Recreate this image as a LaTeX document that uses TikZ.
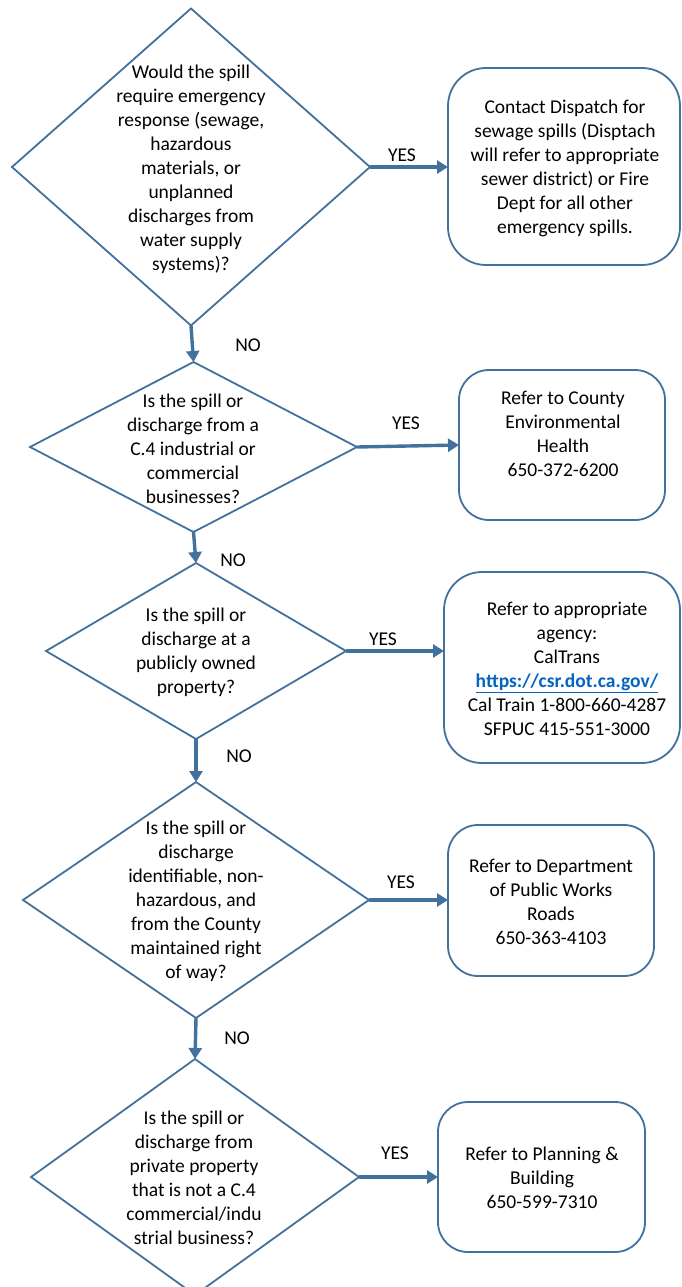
\documentclass[tikz,border=0pt]{standalone}
\usepackage{fontspec}
\setmainfont{Carlito}
\usetikzlibrary{shapes.geometric,arrows.meta}
\definecolor{edge}{HTML}{41719C}
\definecolor{linkc}{HTML}{0563C1}
\tikzset{
  dia/.style={shape=diamond,draw=edge,line width=1.8pt,inner sep=0pt,outer sep=0pt},
  box/.style={shape=rectangle,draw=edge,line width=1.8pt,inner sep=0pt,outer sep=0pt},
  txt/.style={align=center,inner sep=0pt,font=\fontsize{19.5}{24}\selectfont},
  lbl/.style={inner sep=0pt,font=\fontsize{19.5}{24}\selectfont},
  arr/.style={draw=edge,line width=3.4pt,-{Triangle[length=11pt,width=13pt]}}
}
\begin{document}
\begin{tikzpicture}[x=1pt,y=-1pt]
\useasboundingbox (0,0) rectangle (681,1287);
% diamonds
\node[dia,minimum width=358pt,minimum height=317pt] (d1) at (191,167) {};
\node[dia,minimum width=327pt,minimum height=170pt] (d2) at (193.5,447) {};
\node[dia,minimum width=300pt,minimum height=176pt] (d3) at (196,651) {};
\node[dia,minimum width=346pt,minimum height=236pt] (d4) at (196,900) {};
\node[dia,minimum width=328pt,minimum height=236pt] (d5) at (195,1177) {};
% boxes
\node[box,rounded corners=38pt,minimum width=232pt,minimum height=197pt] (b1) at (564,166.5) {};
\node[box,rounded corners=30pt,minimum width=206pt,minimum height=150pt] (b2) at (562,445) {};
\node[box,rounded corners=38pt,minimum width=236pt,minimum height=191pt] (b3) at (562,667.5) {};
\node[box,rounded corners=30pt,minimum width=206pt,minimum height=151pt] (b4) at (551,900.5) {};
\node[box,rounded corners=30pt,minimum width=207pt,minimum height=150pt] (b5) at (541.5,1177) {};
% diamond texts
\node[txt] (t1) at (191,169) {Would the spill\\require emergency\\response (sewage,\\hazardous\\materials, or\\unplanned\\discharges from\\water supply\\systems)?};
\node[txt] (t2) at (193,449) {Is the spill or\\discharge from a\\C.4 industrial or\\commercial\\businesses?};
\node[txt] (t3) at (196,652) {Is the spill or\\discharge at a\\publicly owned\\property?};
\node[txt] (t4) at (196,901) {Is the spill or\\discharge\\identifiable, non-\\hazardous, and\\from the County\\maintained right\\of way?};
\node[txt] (t5) at (194,1178) {Is the spill or\\discharge from\\private property\\that is not a C.4\\commercial/indu\\strial business?};
% box texts
\node[txt] (s1) at (565,168) {Contact Dispatch for\\sewage spills (Disptach\\will refer to appropriate\\sewer district) or Fire\\Dept for all other\\emergency spills.};
\node[txt] (s2) at (563,434) {Refer to County\\Environmental\\Health\\650-372-6200};
\node[txt] (s3) at (567,669) {Refer to appropriate\\agency:\\CalTrans\\{\color{linkc}\underline{\textbf{https://csr.dot.ca.gov/}}}\\Cal Train 1-800-660-4287\\SFPUC 415-551-3000};
\node[txt] (s4) at (551,902) {Refer to Department\\of Public Works\\Roads\\650-363-4103};
\node[txt] (s5) at (542,1178) {Refer to Planning \&\\Building\\650-599-7310};
% connectors
\draw[arr] (d1.south) -- (d2.north);
\draw[arr] (d2.south) -- (d3.north);
\draw[arr] (d3.south) -- (d4.north);
\draw[arr] (d4.south) -- (d5.north);
\draw[arr] (d1.east) -- (d1.east -| b1.west);
\draw[arr] (d2.east) -- (b2.west);
\draw[arr] (d3.east) -- (d3.east -| b3.west);
\draw[arr] (d4.east) -- (d4.east -| b4.west);
\draw[arr] (d5.east) -- (d5.east -| b5.west);
% labels
\node[lbl] (y1) at (402,155) {YES};
\node[lbl] (y2) at (406,423) {YES};
\node[lbl] (y3) at (383,639) {YES};
\node[lbl] (y4) at (401,882) {YES};
\node[lbl] (y5) at (395,1153) {YES};
\node[lbl] (n1) at (248,345) {NO};
\node[lbl] (n2) at (233,560) {NO};
\node[lbl] (n3) at (239,756) {NO};
\node[lbl] (n4) at (237,1038) {NO};
\end{tikzpicture}
\end{document}
